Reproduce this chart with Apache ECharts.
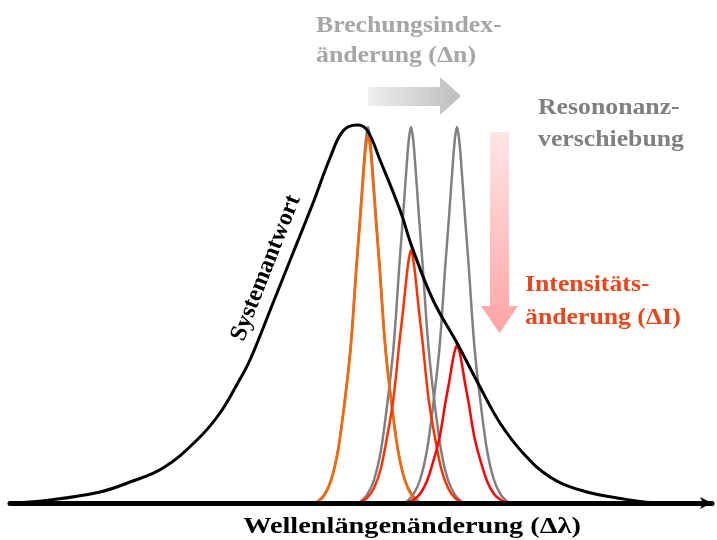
<!DOCTYPE html>
<html>
<head>
<meta charset="utf-8">
<script src="https://cdn.jsdelivr.net/npm/echarts@6/dist/echarts.min.js"></script>
<style>
  html, body { margin: 0; padding: 0; background: #fff; }
  #chart { width: 717px; height: 540px; }
</style>
</head>
<body>
<div id="chart"></div>
<script>
// Systemantwort (breite Kurve)
const sysX = [12, 50, 100, 130, 163, 197, 220, 240, 250, 273, 293, 313, 330, 343, 357, 367, 380, 400, 412, 433, 457, 480, 500, 523, 550, 580, 617, 663, 712]
const sysY = [0, 3, 11, 21, 35, 63, 90, 124, 143, 200, 250, 300, 345, 372, 378, 373, 343, 293, 256, 203, 160, 116, 80, 50, 26, 13, 5, 0, 0]

// Resonanzen (grau) bei drei Positionen
const gray1X = [316, 324, 331, 338, 345, 350, 353, 356, 360, 364, 366, 368, 370, 372, 376, 380, 383, 386, 391, 398, 405, 412, 420]
const gray1Y = [0, 8, 23, 53, 105, 150, 188, 233, 286, 342, 365, 376, 365, 342, 286, 233, 188, 150, 105, 53, 23, 8, 0]
const gray2X = [359, 367, 374, 381, 388, 393, 396, 399, 403, 407, 409, 411, 413, 415, 419, 423, 426, 429, 434, 441, 448, 455, 463]
const gray2Y = [0, 8, 23, 53, 105, 150, 188, 233, 286, 342, 365, 376, 365, 342, 286, 233, 188, 150, 105, 53, 23, 8, 0]
const gray3X = [405, 413, 420, 427, 434, 439, 442, 445, 449, 453, 455, 457, 459, 461, 465, 469, 472, 475, 480, 487, 494, 501, 509]
const gray3Y = [0, 8, 23, 53, 105, 150, 188, 233, 286, 342, 365, 376, 365, 342, 286, 233, 188, 150, 105, 53, 23, 8, 0]

// gemessene Intensitäten
const orangeX = [316, 324, 331, 338, 345, 350, 353, 356, 360, 364, 366, 368, 370, 372, 376, 380, 383, 386, 391, 398, 405, 412, 420]
const orangeY = [0, 7, 22, 52, 103, 147, 184, 228, 280, 335, 357, 368, 357, 335, 280, 228, 184, 147, 103, 52, 22, 7, 0]
const redOrangeX = [359, 367, 374, 381, 388, 393, 396, 399, 403, 407, 409, 411, 413, 415, 419, 423, 426, 429, 434, 441, 448, 455, 463]
const redOrangeY = [0, 5, 15, 35, 71, 101, 127, 157, 192, 230, 245, 253, 245, 230, 192, 157, 127, 101, 71, 35, 15, 5, 0]
const redX = [405, 413, 420, 427, 434, 439, 442, 445, 449, 453, 455, 457, 459, 461, 465, 469, 472, 475, 480, 487, 494, 501, 509]
const redY = [0, 3, 9, 22, 44, 63, 79, 98, 120, 144, 153, 158, 153, 144, 120, 98, 79, 63, 44, 22, 9, 3, 0]

const zip = (xs, ys) => xs.map((x, i) => [x, ys[i]])

const serif = 'bold 23px "Liberation Serif", "DejaVu Serif", serif'

function curve(name, xs, ys, color, width, z, smooth) {
  return {
    name: name,
    type: 'line',
    data: zip(xs, ys),
    smooth: smooth,
    symbol: 'none',
    z: z,
    lineStyle: { color: color, width: width },
    silent: true
  }
}

function label(text, x, y, color, align, font, sx) {
  return {
    type: 'text',
    x: x,
    y: y,
    scaleX: sx || 1.12,
    z: 100,
    style: {
      text: text,
      font: font || serif,
      fill: color,
      textAlign: align || 'left',
      textVerticalAlign: 'middle'
    }
  }
}

var myChart = echarts.init(document.getElementById('chart'))

myChart.setOption({
  animation: false,
  grid: { left: 10, right: 5, top: 0, bottom: 37 },
  xAxis: {
    type: 'value',
    min: 10,
    max: 712,
    axisLine: {
      show: true,
      symbol: ['none', 'arrow'],
      symbolSize: [9, 12],
      lineStyle: { color: '#000', width: 5 }
    },
    axisTick: { show: false },
    axisLabel: { show: false },
    splitLine: { show: false },
    z: 10
  },
  yAxis: {
    type: 'value',
    min: 0,
    max: 503,
    show: false
  },
  series: [
    curve('grau1', gray1X, gray1Y, '#808080', 2.5, 2, 0.3),
    curve('grau2', gray2X, gray2Y, '#808080', 2.5, 2, 0.3),
    curve('grau3', gray3X, gray3Y, '#808080', 2.5, 2, 0.3),
    curve('orange', orangeX, orangeY, '#ff6600', 2.5, 3, 0.3),
    curve('rotorange', redOrangeX, redOrangeY, '#ff3300', 2.5, 3, 0.3),
    curve('rot', redX, redY, '#ff0000', 2.5, 3, 0.3),
    curve('Systemantwort', sysX, sysY, '#000000', 3, 4, 0.4)
  ],
  graphic: [
    // Pfeil Brechungsindexänderung
    {
      type: 'polygon',
      z: 50,
      shape: { points: [[368, 87], [440, 87], [440, 77], [461, 96], [440, 115], [440, 106], [368, 106]] },
      style: {
        fill: new echarts.graphic.LinearGradient(0, 0, 1, 0, [
          { offset: 0, color: '#efefef' },
          { offset: 1, color: '#bdbdbd' }
        ])
      }
    },
    // Pfeil Intensitätsänderung
    {
      type: 'polygon',
      z: 50,
      shape: { points: [[490, 132], [509, 132], [509, 306], [518, 306], [499.5, 333], [481, 306], [490, 306]] },
      style: {
        fill: new echarts.graphic.LinearGradient(0, 0, 0, 1, [
          { offset: 0, color: '#ffe6e6' },
          { offset: 1, color: '#ffa3a3' }
        ])
      }
    },
    label('Brechungsindex-', 316, 26, '#a6a6a6'),
    label('änderung (Δn)', 316, 56, '#a6a6a6'),
    label('Resononanz-', 538, 108, '#808080'),
    label('verschiebung', 538, 140, '#808080'),
    label('Intensitäts-', 525, 285, '#e8461b'),
    label('änderung (ΔI)', 525, 318, '#e8461b'),
    label('Wellenlängenänderung (Δλ)', 412, 527, '#000000', 'center', 'bold 24px "Liberation Serif", "DejaVu Serif", serif', 1.18),
    {
      type: 'text',
      x: 266,
      y: 268,
      rotation: 1.195,
      z: 100,
      style: {
        text: 'Systemantwort',
        font: 'bold 24px "Liberation Serif", "DejaVu Serif", serif',
        fill: '#000',
        textAlign: 'center',
        textVerticalAlign: 'middle'
      }
    }
  ]
})
</script>
</body>
</html>
